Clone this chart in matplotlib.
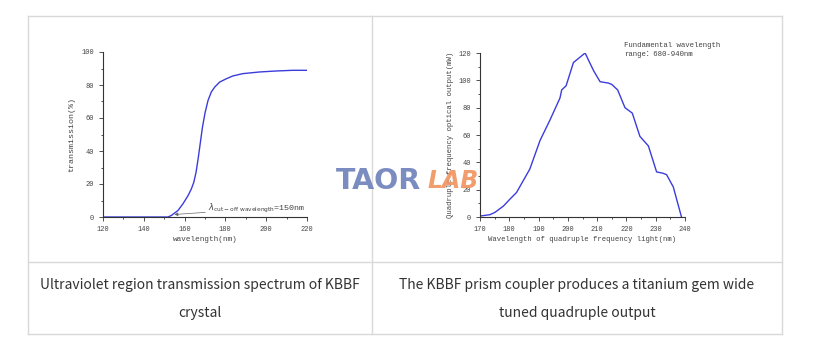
import matplotlib
matplotlib.use("Agg")
import matplotlib.pyplot as plt
from matplotlib.ticker import MultipleLocator
from matplotlib.lines import Line2D

# left chart: KBBF transmission
trans_wl = [120, 150, 151.9, 153.6, 156.8, 159.2, 161.7, 163.3, 164.5, 165.6, 166.6,
            167.6, 168.7, 170, 171.5, 173.1, 174.8, 177.2, 180.5, 183.7, 188.6,
            196.8, 205, 213, 220]
trans_val = [0, 0, 0, 1, 4, 8, 13, 17, 21, 27, 35,
             44, 54, 63, 70.7, 75.8, 78.8, 81.8, 83.8, 85.5, 86.9,
             87.9, 88.5, 88.9, 88.9]

# right chart: quadruple output
quad_wl = [170, 173.4, 175.1, 178, 180.2, 182.5, 185.4, 187, 190.5, 193.9, 197.3,
           197.9, 199.4, 201.9, 203.6, 205.9, 207, 208.8, 211, 213.8, 215, 217,
           219.5, 222, 224.6, 227.5, 230.3, 232.5, 233.7, 236, 238.8]
quad_val = [0.7, 1.7, 3.4, 8, 13, 18, 29, 35, 56, 71, 87,
            93, 96, 113, 116, 120, 115, 107, 99, 98, 97, 93,
            80, 76, 59, 52, 33, 32, 31, 22, 0]

captions = ["Ultraviolet region transmission spectrum of KBBF\ncrystal",
            "The KBBF prism coupler produces a titanium gem wide\ntuned quadruple output"]

W, H = 815, 361
fig = plt.figure(figsize=(W / 100, H / 100), dpi=100)
fig.patch.set_facecolor("white")

def px_axes(x0, y0, x1, y1):
    return fig.add_axes([x0 / W, (H - y1) / H, (x1 - x0) / W, (y1 - y0) / H])

# table lines
grid_c = "#d9d9d9"
def hline(y, x0, x1):
    fig.add_artist(Line2D([x0 / W, x1 / W], [(H - y) / H] * 2, color=grid_c, lw=1))
def vline(x, y0, y1):
    fig.add_artist(Line2D([x / W] * 2, [(H - y0) / H, (H - y1) / H], color=grid_c, lw=1))
hline(16, 28, 782)
hline(262, 28, 782)
hline(334, 28, 782)
vline(28, 16, 334)
vline(372, 16, 334)
vline(782, 16, 334)

mono = ["Liberation Mono", "Noto Sans CJK SC"]
tcol = "#444444"
line_c = "#3c3cdc"

def style(ax):
    for s in ["top", "right"]:
        ax.spines[s].set_visible(False)
    for s in ["left", "bottom"]:
        ax.spines[s].set_color("#333333")
        ax.spines[s].set_linewidth(0.8)
    ax.tick_params(which="both", direction="out", colors="#333333", labelsize=5,
                   labelcolor=tcol, width=0.6)
    ax.tick_params(which="major", length=3)
    ax.tick_params(which="minor", length=1.5)
    for lab in ax.get_xticklabels() + ax.get_yticklabels():
        lab.set_family(mono)

# left chart
ax1 = px_axes(103, 52, 307, 217)
ax1.plot(trans_wl, trans_val, color=line_c, lw=1)
ax1.set_xlim(120, 220)
ax1.set_ylim(0, 100)
ax1.xaxis.set_major_locator(MultipleLocator(20))
ax1.xaxis.set_minor_locator(MultipleLocator(10))
ax1.yaxis.set_major_locator(MultipleLocator(20))
ax1.yaxis.set_minor_locator(MultipleLocator(10))
style(ax1)
ax1.set_xlabel("wavelength(nm)", family=mono, fontsize=5.5, color=tcol, labelpad=2)
ax1.set_ylabel("transmission(%)", family=mono, fontsize=6, color=tcol, labelpad=4)
ax1.annotate(r"$\lambda_{\mathrm{cut-off\ wavelength}}$=150nm", xy=(155, 1.5),
             xytext=(171.5, 5), fontsize=6, color=tcol, family=mono,
             va="center", annotation_clip=False,
             arrowprops=dict(arrowstyle="-|>", color="#666666", lw=0.5,
                             mutation_scale=5, shrinkA=0, shrinkB=0))

# right chart
ax2 = px_axes(480, 53, 685, 217)
ax2.plot(quad_wl, quad_val, color=line_c, lw=1)
ax2.set_xlim(170, 240)
ax2.set_ylim(0, 120)
ax2.xaxis.set_major_locator(MultipleLocator(10))
ax2.xaxis.set_minor_locator(MultipleLocator(5))
ax2.yaxis.set_major_locator(MultipleLocator(20))
ax2.yaxis.set_minor_locator(MultipleLocator(10))
style(ax2)
ax2.set_xlabel("Wavelength of quadruple frequency light(nm)", family=mono,
               fontsize=5.2, color=tcol, labelpad=2)
ax2.set_ylabel("Quadruple frequency optical output(mW)", family=mono,
               fontsize=5.3, color=tcol, labelpad=3)
ax2.text(624 / W, (H - 50) / H, "Fundamental wavelength\nrange：680-940nm",
         transform=fig.transFigure, family=mono, fontsize=5.3, color=tcol,
         va="center", ha="left", linespacing=1.4)

# captions
for cx, txt in zip([200, 577], captions):
    fig.text(cx / W, (H - 299) / H, txt, ha="center", va="center",
             fontsize=10, color="#333333", family=["Noto Sans CJK SC", "DejaVu Sans"],
             linespacing=2.2)

# watermark
fig.text(336 / W, (H - 181) / H, "TAOR", fontsize=20.5, fontweight="bold",
         color="#7b8cc0", family="DejaVu Sans", va="center", ha="left")
fig.text(428 / W, (H - 181) / H, "LAB", fontsize=17, fontweight="bold", style="italic",
         color="#f0935e", family="DejaVu Sans", va="center", ha="left", alpha=0.9)

fig.savefig("out.png", dpi=100, facecolor="white")
